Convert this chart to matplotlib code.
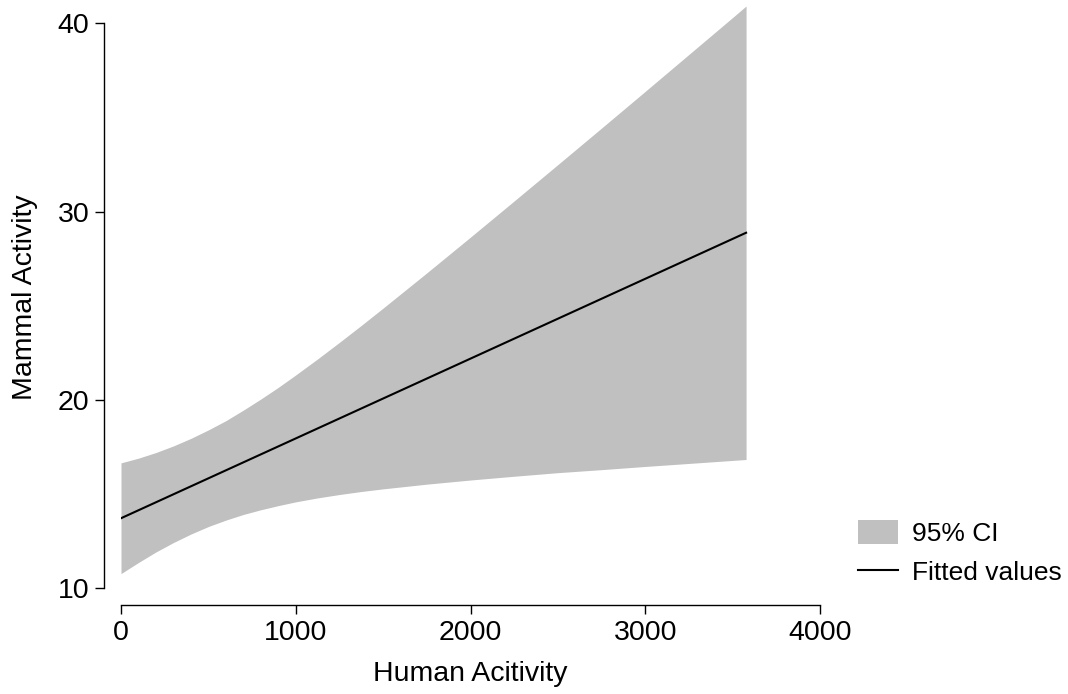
import numpy as np
import matplotlib
matplotlib.use("Agg")
import matplotlib.pyplot as plt
from matplotlib.patches import Patch
from matplotlib.lines import Line2D

plt.rcParams['font.family'] = ['Liberation Sans', 'DejaVu Sans']

# values
human = [0, 100, 200, 300, 400, 500, 600, 700, 800, 900, 1000, 1125, 1250, 1375,
         1500, 1750, 2000, 2250, 2500, 2750, 3000, 3250, 3500, 3577]
ci_upper = [16.66, 16.91, 17.21, 17.56, 17.96, 18.41, 18.90, 19.46, 20.05, 20.67,
            21.33, 22.18, 23.06, 23.96, 24.88, 26.75, 28.65, 30.57, 32.50, 34.44,
            36.39, 38.35, 40.31, 40.92]
ci_lower = [10.78, 11.37, 11.93, 12.43, 12.88, 13.28, 13.62, 13.92, 14.17, 14.39,
            14.59, 14.80, 14.98, 15.14, 15.28, 15.53, 15.75, 15.95, 16.14, 16.30,
            16.47, 16.63, 16.79, 16.84]
fit_x = [0, 3577]
fit_y = [13.72, 28.88]

x_ticks = [0, 1000, 2000, 3000, 4000]
y_ticks = [10, 20, 30, 40]

fig = plt.figure(figsize=(10.68, 6.94), dpi=100)
ax = fig.add_axes([121 / 1068, (694 - 588.3) / 694, 699 / 1068, (588.3 - 6) / 694])

ax.fill_between(human, ci_lower, ci_upper, color='#c0c0c0', linewidth=0)
ax.plot(fit_x, fit_y, color='black', linewidth=1.5)

ax.set_xlim(0, 4000)
ax.set_ylim(10, 40.92)
ax.set_xticks(x_ticks)
ax.set_yticks(y_ticks)

for s in ['top', 'right']:
    ax.spines[s].set_visible(False)
ax.spines['left'].set_position(('outward', 12.2))
ax.spines['bottom'].set_position(('outward', 12.2))
ax.spines['left'].set_bounds(10, 40)
ax.spines['bottom'].set_bounds(0, 4000)
for s in ['left', 'bottom']:
    ax.spines[s].set_linewidth(1.0)

ax.tick_params(axis='both', direction='out', length=6.5, width=1.0,
               labelsize=20.5, pad=4)

ax.set_xlabel('Human Acitivity', fontsize=20.5, labelpad=11)
ax.set_ylabel('Mammal Activity', fontsize=20.5, labelpad=14)

handles = [Patch(facecolor='#c0c0c0', edgecolor='none'),
           Line2D([0], [0], color='black', linewidth=1.5)]
fig.legend(handles, ['95% CI', 'Fitted values'], loc='center left',
           bbox_to_anchor=(858 / 1068, 1 - 552.5 / 694), frameon=False,
           fontsize=19, borderpad=0, borderaxespad=0, handlelength=1.5,
           handleheight=1.0, handletextpad=0.55, labelspacing=0.5)

fig.savefig('out.png', dpi=100)
